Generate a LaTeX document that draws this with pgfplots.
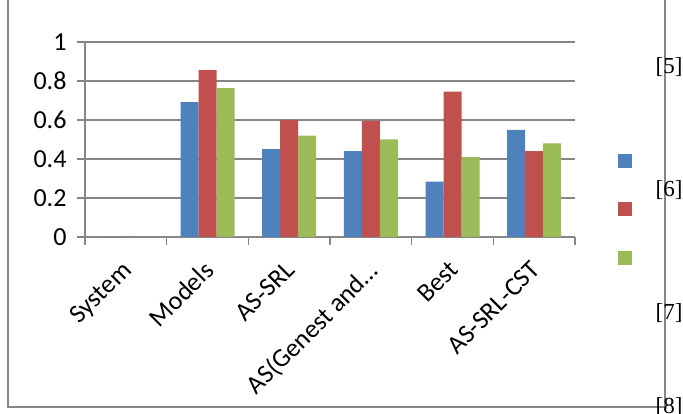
\documentclass[border=0pt]{standalone}
\usepackage{pgfplots}
\pgfplotsset{compat=1.18}
\usepackage{fontspec}
\setmainfont{Carlito}
\newfontfamily\seriffont{Liberation Serif}
\definecolor{cblue}{HTML}{4F81BD}
\definecolor{cred}{HTML}{C0504D}
\definecolor{cgreen}{HTML}{9BBB59}
\definecolor{cgrid}{HTML}{868686}
\begin{document}
\begin{tikzpicture}
\useasboundingbox (0pt,0pt) rectangle (683pt,414pt);
\begin{axis}[
  at={(85pt,177pt)}, anchor=south west,
  scale only axis, width=490pt, height=195pt,
  xmin=0, xmax=6, ymin=0, ymax=1,
  axis lines*=left,
  axis line style={cgrid, line width=1.5pt},
  ybar=0pt, bar width=18pt,
  xtick={0.5,1.5,2.5,3.5,4.5,5.5},
  xticklabels={System,Models,AS-SRL,AS(Genest and…,Best,AS-SRL-CST},
  minor xtick={0,1,2,3,4,5,6},
  major x tick style={draw=none},
  minor tick length=8pt,
  major tick length=8pt,
  tick align=outside,
  tick style={cgrid, line width=1.5pt},
  ytick={0,0.2,0.4,0.6,0.8,1},
  yticklabels={0,0.2,0.4,0.6,0.8,1},
  ymajorgrids, grid style={cgrid, line width=1.5pt},
  ticklabel style={font=\fontsize{26}{30}\selectfont},
  xticklabel style={xshift=-5pt, yshift=-13pt, rotate=45, anchor=north east, inner sep=1pt},
  yticklabel style={xshift=-7pt},
]
\addplot[fill=cblue, draw=none] coordinates {(0.5,0) (1.5,0.692) (2.5,0.45) (3.5,0.441) (4.5,0.284) (5.5,0.549)};
\addplot[fill=cred, draw=none] coordinates {(0.5,0) (1.5,0.856) (2.5,0.60) (3.5,0.595) (4.5,0.745) (5.5,0.441)};
\addplot[fill=cgreen, draw=none] coordinates {(0.5,0) (1.5,0.764) (2.5,0.52) (3.5,0.50) (4.5,0.409) (5.5,0.48)};
\end{axis}
\draw[cgrid, line width=1.5pt] (8pt,420pt) -- (8pt,7pt) -- (665pt,7pt) -- (665pt,420pt);
\fill[cblue] (618pt,246pt) rectangle (632pt,260pt);
\fill[cred] (618pt,198pt) rectangle (632pt,212pt);
\fill[cgreen] (618pt,149pt) rectangle (632pt,163pt);
\node[font=\seriffont\fontsize{23}{25}\selectfont, inner sep=0pt] at (669pt,347pt) {[5]};
\node[font=\seriffont\fontsize{23}{25}\selectfont, inner sep=0pt] at (669pt,224pt) {[6]};
\node[font=\seriffont\fontsize{23}{25}\selectfont, inner sep=0pt] at (669pt,101pt) {[7]};
\node[font=\seriffont\fontsize{23}{25}\selectfont, inner sep=0pt] at (669pt,7pt) {[8]};
\end{tikzpicture}
\end{document}
